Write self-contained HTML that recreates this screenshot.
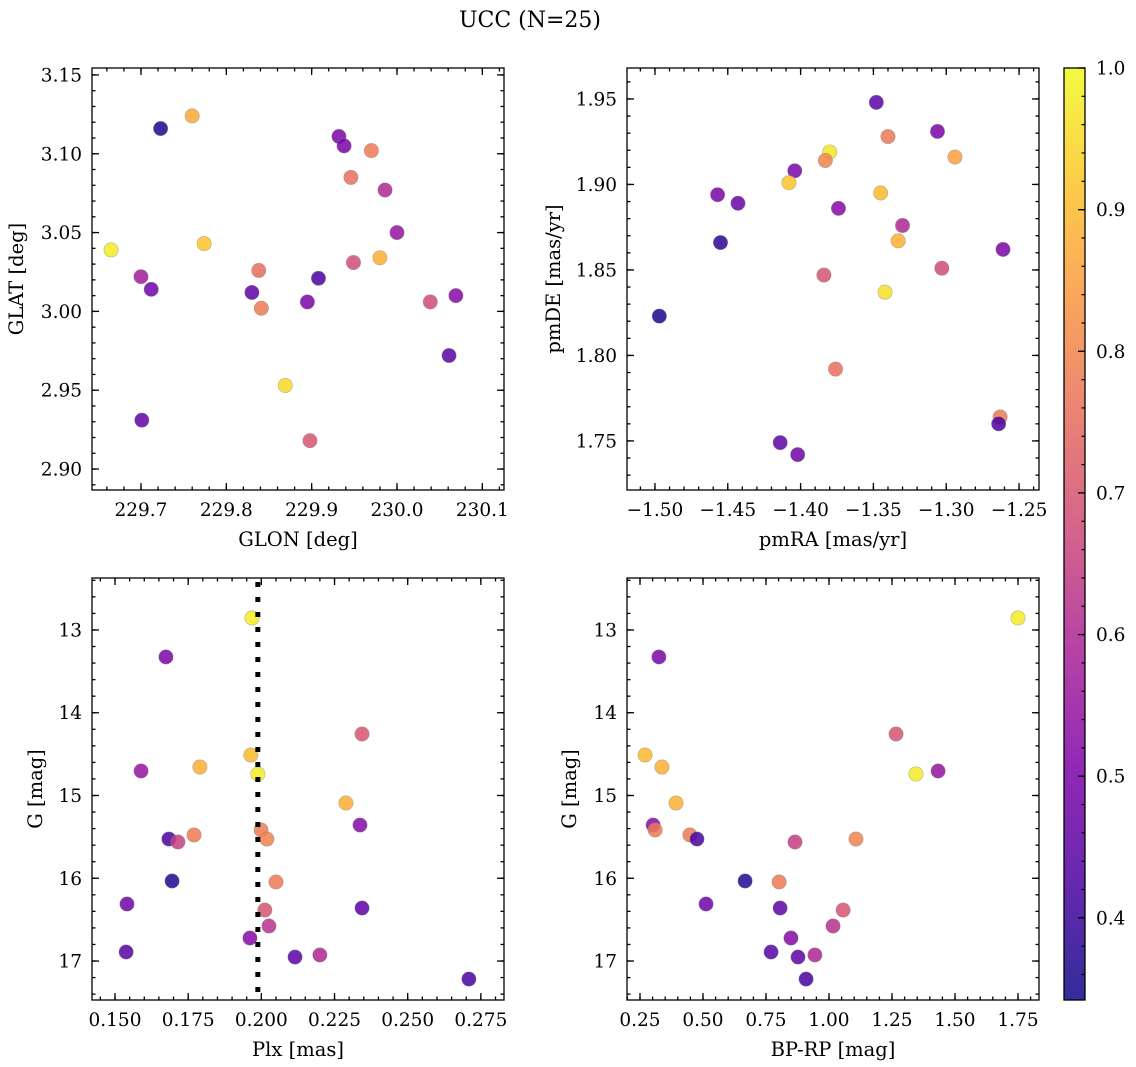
<!DOCTYPE html>
<html><head><meta charset="utf-8"><style>
html,body{margin:0;padding:0;background:#fff;}
svg{display:block;font-family:"DejaVu Serif","Liberation Serif",serif;}
</style></head><body>
<svg id="fig" width="1136" height="1067" viewBox="0 0 1136 1067" xmlns="http://www.w3.org/2000/svg">
<defs>
<linearGradient id="cbg" x1="0" y1="1" x2="0" y2="0">
<stop offset="0" stop-color="#0d0887"/><stop offset="0.125" stop-color="#4c02a1"/>
<stop offset="0.25" stop-color="#7e03a8"/><stop offset="0.375" stop-color="#a82296"/>
<stop offset="0.5" stop-color="#cc4778"/><stop offset="0.625" stop-color="#e66c5c"/>
<stop offset="0.75" stop-color="#f89540"/><stop offset="0.875" stop-color="#fdc328"/>
<stop offset="1" stop-color="#f0f921"/></linearGradient>
</defs>
<text x="530" y="27" text-anchor="middle" font-size="22">UCC (N=25)</text>
</svg>
<script>
// ---- data ----
const glon=[229.723,229.760,229.932,229.938,229.970,229.946,229.986,230.000,229.665,229.774,229.700,229.712,229.838,229.949,229.980,229.908,229.830,229.841,229.895,230.039,230.069,230.061,229.869,229.701,229.898];
const glat=[3.116,3.124,3.111,3.105,3.102,3.085,3.077,3.050,3.039,3.043,3.022,3.014,3.026,3.031,3.034,3.021,3.012,3.002,3.006,3.006,3.010,2.972,2.953,2.931,2.918];
const probPos=[0.36,0.87,0.50,0.50,0.78,0.76,0.60,0.55,0.98,0.92,0.57,0.48,0.75,0.68,0.88,0.42,0.45,0.78,0.50,0.68,0.52,0.44,0.95,0.46,0.70];
const pmra=[-1.348,-1.306,-1.340,-1.380,-1.383,-1.294,-1.404,-1.408,-1.457,-1.443,-1.345,-1.374,-1.330,-1.333,-1.455,-1.261,-1.303,-1.384,-1.342,-1.497,-1.376,-1.263,-1.264,-1.414,-1.402];
const pmde=[1.948,1.931,1.928,1.919,1.914,1.916,1.908,1.901,1.894,1.889,1.895,1.886,1.876,1.867,1.866,1.862,1.851,1.847,1.837,1.823,1.792,1.764,1.760,1.749,1.742];
const probPm=[0.45,0.50,0.78,0.97,0.80,0.85,0.50,0.92,0.50,0.47,0.90,0.52,0.60,0.88,0.38,0.50,0.68,0.70,0.96,0.36,0.76,0.78,0.42,0.45,0.48];
const plx=[0.1968,0.1674,0.2344,0.1589,0.1964,0.1790,0.1988,0.2289,0.2337,0.1999,0.1770,0.2019,0.1684,0.1715,0.1695,0.2050,0.1541,0.2012,0.2344,0.2026,0.1961,0.1538,0.2115,0.2200,0.2709];
const gmag=[12.855,13.326,14.257,14.704,14.511,14.656,14.740,15.091,15.357,15.417,15.477,15.526,15.526,15.562,16.033,16.045,16.311,16.384,16.360,16.577,16.722,16.891,16.952,16.927,17.218];
const bprp=[1.750,0.325,1.266,1.433,0.270,0.337,1.345,0.393,0.302,0.310,0.448,1.107,0.476,0.865,0.667,0.802,0.512,1.056,0.806,1.016,0.849,0.770,0.877,0.944,0.909];
const probCmd=[0.98,0.50,0.70,0.55,0.90,0.88,0.98,0.88,0.52,0.78,0.78,0.80,0.42,0.65,0.37,0.78,0.48,0.70,0.45,0.62,0.52,0.44,0.45,0.60,0.42];
const plxMean=0.1988;
const cbTicks=[0.4,0.5,0.6,0.7,0.8,0.9,1.0];
const cMin=0.342,cMax=1.0;

const NS="http://www.w3.org/2000/svg";
const svg=document.getElementById('fig');
const TF=18.5, LF=19.5;
function el(tag,attrs,parent){const e=document.createElementNS(NS,tag);for(const k in attrs)e.setAttribute(k,attrs[k]);(parent||svg).appendChild(e);return e;}
const stops=[[0,[13,8,135]],[0.125,[76,2,161]],[0.25,[126,3,168]],[0.375,[168,34,150]],[0.5,[204,71,120]],[0.625,[230,108,92]],[0.75,[248,149,64]],[0.875,[253,195,40]],[1,[240,249,33]]];
function plasma(v){let t=Math.max(0,Math.min(1,(v-cMin)/(cMax-cMin)));for(let i=0;i<stops.length-1;i++){const a=stops[i],b=stops[i+1];if(t<=b[0]){const f=(t-a[0])/(b[0]-a[0]);const c=a[1].map((x,j)=>Math.round(x+(b[1][j]-x)*f));return `rgb(${c})`;}}return 'rgb(240,249,33)';}

function fmt(v,d){let s=v.toFixed(d);return s.replace('-','\u2212');}
function panel(o){
  const {name,x0,y0,x1,y1,xmin,xmax,ymin,ymax,xt,yt,xminor,yminor,xd,yd,xlab,ylab,xs,ys,cs,inv}=o;
  const g=el('g',{});
  
  
  const X=v=>x0+(v-xmin)/(xmax-xmin)*(x1-x0);
  const Y=inv?(v=>y0+(v-ymin)/(ymax-ymin)*(y1-y0)):(v=>y1-(v-ymin)/(ymax-ymin)*(y1-y0));
  for(let i=0;i<xs.length;i++){
    const c=el('circle',{cx:X(xs[i]),cy:Y(ys[i]),r:7.2,fill:plasma(cs[i]),'fill-opacity':0.85,stroke:'#888','stroke-opacity':0.6,'stroke-width':0.6},g);
    
    
  }
  if(o.vline!==undefined){
    const l=el('line',{x1:X(o.vline),x2:X(o.vline),y1:y0+4,y2:y1,stroke:'#000','stroke-width':5,'stroke-dasharray':'5 10'},g);
    
    
  }
  const ax=el('g',{stroke:'#000','stroke-width':1.3},g);
  
  
  el('rect',{x:x0,y:y0,width:x1-x0,height:y1-y0,fill:'none'},ax);
  const tx=(v,len)=>{const p=X(v);if(p<x0-0.5||p>x1+0.5)return;el('line',{x1:p,x2:p,y1:y1,y2:y1-len},ax);el('line',{x1:p,x2:p,y1:y0,y2:y0+len},ax);};
  const ty=(v,len)=>{const p=Y(v);if(p<y0-0.5||p>y1+0.5)return;el('line',{x1:x0,x2:x0+len,y1:p,y2:p},ax);el('line',{x1:x1,x2:x1-len,y1:p,y2:p},ax);};
  const xstep=xt[1]-xt[0],ystep=yt[1]-yt[0];
  for(let v=xt[0]-xstep;v<=xmax+1e-9;v+=xminor) tx(v,3.5);
  for(let v=yt[0]-ystep;v<=Math.max(ymax,ymin)+1e-9;v+=yminor) ty(v,3.5);
  xt.forEach(v=>{tx(v,7);const p=X(v);if(p<x0-1||p>x1+1)return;const t=el('text',{x:p,y:y1+26,'text-anchor':'middle','font-size':TF},g);t.textContent=fmt(v,xd);});
  yt.forEach(v=>{ty(v,7);const p=Y(v);if(p<y0-1||p>y1+1)return;const t=el('text',{x:x0-10,y:p+6.5,'text-anchor':'end','font-size':TF},g);t.textContent=fmt(v,yd);});
  const xl=el('text',{x:(x0+x1)/2,y:y1+56,'text-anchor':'middle','font-size':LF},g);xl.textContent=xlab;
  
  
  const yl=el('text',{x:0,y:0,'text-anchor':'middle','font-size':LF,transform:`translate(${o.ylx},${(y0+y1)/2}) rotate(-90)`},g);yl.textContent=ylab;
  
  
}
panel({name:'glon-glat-panel',x0:92,y0:68,x1:504,y1:490,xmin:229.6426,xmax:230.1254,ymin:2.8867,ymax:3.1544,xt:[229.7,229.8,229.9,230.0,230.1],yt:[2.90,2.95,3.00,3.05,3.10,3.15],xminor:0.02,yminor:0.01,xd:1,yd:2,xlab:'GLON [deg]',ylab:'GLAT [deg]',ylx:23,xs:glon,ys:glat,cs:probPos});
panel({name:'pm-panel',x0:627,y0:68,x1:1039,y1:490,xmin:-1.5192,xmax:-1.2363,ymin:1.7213,ymax:1.9681,xt:[-1.50,-1.45,-1.40,-1.35,-1.30,-1.25],yt:[1.75,1.80,1.85,1.90,1.95],xminor:0.01,yminor:0.01,xd:2,yd:2,xlab:'pmRA [mas/yr]',ylab:'pmDE [mas/yr]',ylx:560,xs:pmra,ys:pmde,cs:probPm});
panel({name:'plx-g-panel',x0:92,y0:578,x1:504,y1:1000,xmin:0.14214,xmax:0.2829,ymin:12.372,ymax:17.471,inv:true,xt:[0.150,0.175,0.200,0.225,0.250,0.275],yt:[13,14,15,16,17],xminor:0.005,yminor:0.2,xd:3,yd:0,xlab:'Plx [mas]',ylab:'G [mag]',ylx:42,xs:plx,ys:gmag,cs:probCmd,vline:plxMean});
panel({name:'cmd-panel',x0:627,y0:578,x1:1039,y1:1000,xmin:0.1984,xmax:1.8333,ymin:12.372,ymax:17.471,inv:true,xt:[0.25,0.50,0.75,1.00,1.25,1.50,1.75],yt:[13,14,15,16,17],xminor:0.05,yminor:0.2,xd:2,yd:0,xlab:'BP-RP [mag]',ylab:'G [mag]',ylx:576,xs:bprp,ys:gmag,cs:probCmd});

// colorbar
const cb=el('g',{});


const cy0=68,cy1=1000,cx0=1064,cx1=1085;
const CY=v=>cy1-(v-cMin)/(cMax-cMin)*(cy1-cy0);
el('rect',{x:cx0,y:cy0,width:cx1-cx0,height:cy1-cy0,fill:'url(#cbg)','fill-opacity':0.85},cb);
for(let v=0.36;v<=1.0001;v+=0.02){el('line',{x1:cx1,x2:cx1-3.5,y1:CY(v),y2:CY(v),stroke:'#000','stroke-width':1.2},cb);}
cbTicks.forEach(v=>{el('line',{x1:cx1,x2:cx1-7,y1:CY(v),y2:CY(v),stroke:'#000','stroke-width':1.3},cb);const t=el('text',{x:1096,y:CY(v)+6.5,'font-size':TF},cb);t.textContent=v.toFixed(1);});
el('rect',{x:cx0,y:cy0,width:cx1-cx0,height:cy1-cy0,fill:'none',stroke:'#000','stroke-width':1.3},cb);
</script>
</body></html>
